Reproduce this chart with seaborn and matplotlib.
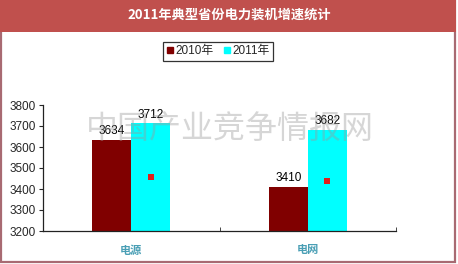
import matplotlib
matplotlib.use("Agg")
import matplotlib.pyplot as plt
import seaborn as sns
import pandas as pd
import numpy as np
from matplotlib.patches import Rectangle
from matplotlib.lines import Line2D

sns.set_style("white")
plt.rcParams['font.family'] = ['Liberation Sans', 'Noto Sans CJK SC', 'DejaVu Sans']

categories = ["电源", "电网"]
years = ["2010年", "2011年"]
values_2010 = [3634, 3410]
values_2011 = [3712, 3682]
marker_values = [3457, 3438]
title = "2011年典型省份电力装机增速统计"
watermark = "中国产业竞争情报网"
yticks = [3200, 3300, 3400, 3500, 3600, 3700, 3800]

df = pd.DataFrame({
    "cat": categories * 2,
    "year": [years[0]] * 2 + [years[1]] * 2,
    "val": values_2010 + values_2011,
})

fig = plt.figure(figsize=(4.58, 2.64), dpi=100)
fig.patch.set_facecolor("white")
fig.patches.append(Rectangle((0.002, 0.008), 0.992, 0.99, transform=fig.transFigure,
                             fill=False, edgecolor="#A86A72", linewidth=1.6, zorder=0))
fig.patches.append(Rectangle((0, 1 - 32 / 264), 0.995, 32 / 264, transform=fig.transFigure,
                             facecolor="#C0504D", edgecolor="none", zorder=1))
fig.text(0.5, 1 - 15 / 264, title, color="white", fontsize=9.5, fontweight="bold",
         ha="center", va="center", family=['Noto Sans CJK SC', 'DejaVu Sans'])

ax = fig.add_axes([43 / 458, 1 - 231 / 264, (396 - 43) / 458, (231 - 105) / 264])
width = 0.44
palette = {years[0]: "#800000", years[1]: "#00FFFF"}
sns.barplot(data=df, x="cat", y="val", hue="year", palette=palette, width=width,
            saturation=1, ax=ax, legend=False, linewidth=0)
ax.scatter(np.arange(len(categories)) + width / 4, marker_values, marker="s", s=22,
           color="#E0201B", zorder=5, linewidths=0)

ax.set_ylim(3200, 3800)
ax.set_xlim(-0.5, 1.5)
ax.set_yticks(yticks)
ax.set_yticklabels([str(t) for t in yticks], fontsize=8.5)
ax.set_xlabel("")
ax.set_ylabel("")
ax.set_xticks([0, 1])
ax.set_xticklabels(categories, fontsize=8, fontweight="bold", color="#4A9FB5",
                   family=['Noto Sans CJK SC', 'DejaVu Sans'])
ax.tick_params(axis="x", length=0, pad=9)
ax.tick_params(axis="y", length=3, direction="out", left=True, pad=2)
for s in ["top", "right"]:
    ax.spines[s].set_visible(False)
for s in ["left", "bottom"]:
    ax.spines[s].set_color("#222222")
    ax.spines[s].set_linewidth(0.9)
ax.set_xticks([0.5, 1.5], minor=True)
ax.tick_params(axis="x", which="minor", length=3, direction="in", bottom=True)

for cont in ax.containers:
    ax.bar_label(cont, fontsize=8.5, padding=2, color="black")

# watermark drawn semi-transparent over the plot
fig.text(0.503, 1 - 130 / 264, watermark, fontsize=23, color="#9A9A9A", alpha=0.4,
         ha="center", va="center", family=['Noto Sans CJK SC', 'DejaVu Sans'], zorder=10)

handles = [Line2D([], [], marker="s", linestyle="none", markersize=5, color=palette[y]) for y in years]
leg = fig.legend(handles, years, loc="upper center", bbox_to_anchor=(0.476, 1 - 36 / 264), ncol=2,
                 frameon=True, fancybox=False, handlelength=0.6, handletextpad=0.2,
                 columnspacing=0.8, borderpad=0.3,
                 prop={'family': ['Liberation Sans', 'Noto Sans CJK SC'], 'size': 8.5})
leg.get_frame().set_edgecolor("black")
leg.get_frame().set_linewidth(0.9)

fig.savefig("out.png", dpi=100)
